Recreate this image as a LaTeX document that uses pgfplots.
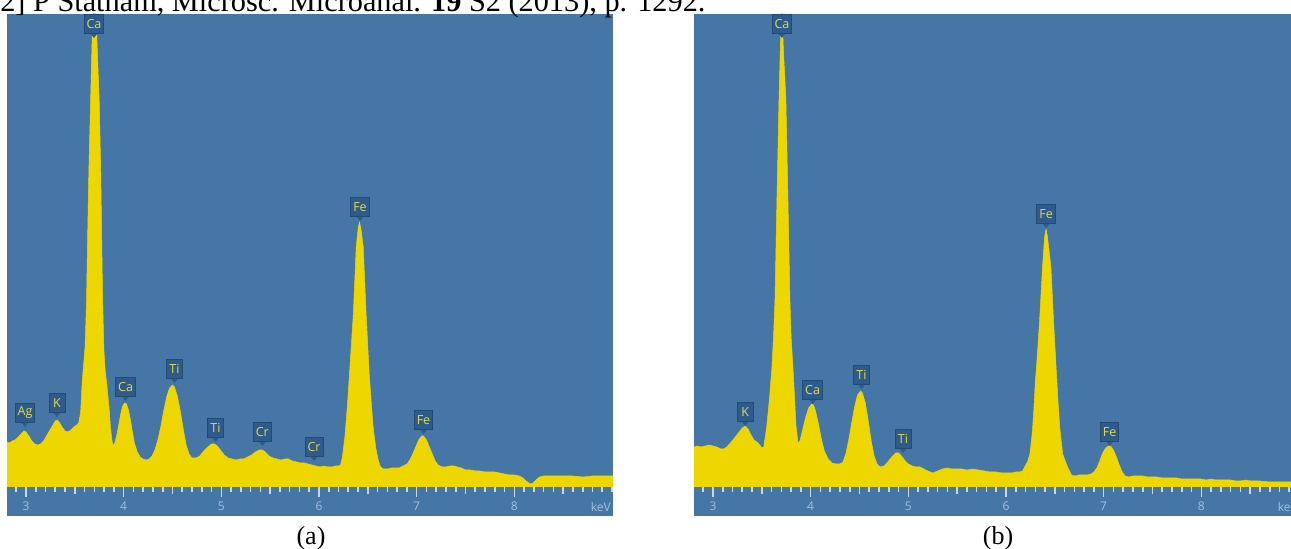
\documentclass[border=0pt]{standalone}
\usepackage{pgfplots}
\pgfplotsset{compat=1.18}
\usepackage{pgfplotstable}
\usepackage{fontspec}
\setmainfont{Liberation Serif}
\newfontfamily\sansf{Open Sans}
\definecolor{bgblue}{HTML}{4676A6}
\definecolor{ycol}{HTML}{EED600}
\definecolor{boxc}{HTML}{2E5B8B}
\definecolor{boxd}{HTML}{234B76}
\definecolor{lbltxt}{HTML}{E2DA45}
\definecolor{tickc}{HTML}{C6D8EC}
\definecolor{ticklc}{HTML}{A3C0DC}

\pgfplotstableread{
x y
2.806 45
2.83 44
2.86 46
2.89 47
2.92 50
2.95 53
2.98 56
3.00 55
3.03 51
3.06 46
3.09 43
3.12 42
3.15 43
3.18 46
3.21 51
3.24 56
3.27 61
3.30 66
3.32 67
3.34 65
3.37 60
3.40 56
3.43 55
3.46 57
3.49 60
3.52 62
3.54 64
3.56 75
3.575 104
3.59 122
3.605 140
3.62 185
3.632 254
3.645 320
3.662 387
3.679 454
3.69 480
3.70 490
3.71 480
3.724 454
3.75 387
3.765 320
3.775 254
3.785 187
3.798 137
3.81 118
3.826 104
3.84 90
3.853 77
3.865 60
3.88 47
3.89 42
3.91 44
3.93 52
3.95 62
3.97 73
3.99 81
4.01 84
4.03 83
4.05 77
4.07 67
4.09 55
4.11 44
4.14 35
4.17 30
4.20 28
4.23 27
4.26 28
4.29 31
4.32 37
4.35 47
4.38 60
4.41 76
4.44 90
4.47 99
4.50 102
4.52 100
4.55 91
4.58 76
4.61 58
4.64 42
4.67 33
4.70 29
4.74 29
4.78 31
4.82 36
4.86 40
4.90 43
4.93 43
4.96 41
4.99 37
5.03 32
5.07 29
5.11 28
5.15 27
5.19 28
5.23 28
5.27 30
5.31 32
5.35 35
5.39 37
5.42 37
5.45 35
5.49 31
5.53 29
5.57 28
5.61 27
5.65 28
5.69 28
5.73 26
5.77 25
5.81 24
5.85 24
5.89 23
5.93 22
5.97 21
6.01 20
6.05 21
6.09 20
6.13 20
6.17 21
6.20 21
6.221 22
6.24 30
6.265 50
6.29 80
6.31 110
6.33 140
6.352 174
6.381 240
6.40 258
6.414 265
6.43 258
6.453 240
6.482 174
6.50 140
6.515 112
6.535 85
6.552 62
6.58 40
6.606 27
6.63 20
6.66 18
6.70 18
6.74 19
6.78 19
6.82 19
6.86 21
6.90 23
6.93 27
6.96 33
6.99 40
7.02 47
7.05 51
7.07 51
7.10 47
7.13 40
7.16 33
7.19 26
7.22 22
7.26 20
7.30 20
7.34 21
7.38 21
7.42 20
7.46 19
7.50 17
7.55 17
7.60 16
7.65 16
7.70 15
7.75 15
7.80 15
7.85 14
7.90 13
7.95 12
8.00 12
8.05 11
8.09 9
8.12 6
8.15 4
8.17 3
8.19 4
8.22 7
8.26 10
8.30 11
8.40 11
8.50 11
8.60 11
8.70 10
8.80 11
8.90 11
9.01 11
}\specA

\pgfplotstableread{
x y
2.806 40
2.84 41
2.88 40
2.92 41
2.96 42
3.00 41
3.04 40
3.08 38
3.11 38
3.14 40
3.18 44
3.22 49
3.26 54
3.30 59
3.33 61
3.36 58
3.39 52
3.42 47
3.45 45
3.48 42
3.50 39
3.52 40
3.55 60
3.58 90
3.604 120
3.62 150
3.635 187
3.655 287
3.676 387
3.69 440
3.705 480
3.72 440
3.747 387
3.768 287
3.788 187
3.80 150
3.819 120
3.835 90
3.85 62
3.87 44
3.89 46
3.92 58
3.95 70
3.98 79
4.01 83
4.03 82
4.05 76
4.08 63
4.11 48
4.14 36
4.18 28
4.22 24
4.26 23
4.30 23
4.33 25
4.36 33
4.39 47
4.42 64
4.45 80
4.48 92
4.51 96
4.53 94
4.56 84
4.59 66
4.62 46
4.65 31
4.68 23
4.71 20
4.75 21
4.79 25
4.83 30
4.87 34
4.90 34
4.93 31
4.96 27
5.00 23
5.04 21
5.08 20
5.12 20
5.16 18
5.20 16
5.25 14
5.30 16
5.35 18
5.40 19
5.45 18
5.50 18
5.55 18
5.60 17
5.66 18
5.72 17
5.78 16
5.84 15
5.90 15
5.96 14
6.01 14
6.06 14
6.10 15
6.14 15
6.17 16
6.19 20
6.22 25
6.245 33
6.27 55
6.29 85
6.30 105
6.316 125
6.343 165
6.374 220
6.395 250
6.41 258
6.425 250
6.46 220
6.49 160
6.51 125
6.53 90
6.55 60
6.58 33
6.63 20
6.67 12
6.71 11
6.75 12
6.79 12
6.83 12
6.87 13
6.90 15
6.93 19
6.96 26
6.99 34
7.02 39
7.05 41
7.07 41
7.10 37
7.13 30
7.16 22
7.19 15
7.22 11
7.26 10
7.30 11
7.35 11
7.40 11
7.45 10
7.50 10
7.55 10
7.60 9
7.65 9
7.70 9
7.75 9
7.80 8
7.85 8
7.90 8
7.95 8
8.00 8
8.05 7
8.10 8
8.15 7
8.20 7
8.25 7
8.30 7
8.35 6
8.40 6
8.45 7
8.50 6
8.60 6
8.70 5
8.80 5
8.90 5
9.01 5
}\specB

\tikzset{lbl/.style={anchor=south, fill=boxc, draw=boxd, line width=0.8pt,
  text=lbltxt, font=\sansf\fontsize{12.5}{12.5}\selectfont,
  inner xsep=2.5pt, inner ysep=0pt, minimum height=19.5pt, minimum width=16pt}}
\newcommand{\lab}[3]{%
  \fill[boxc] (axis cs:#1,#2) -- ([xshift=-3.5pt,yshift=4.5pt]axis cs:#1,#2)
     -- ([xshift=3.5pt,yshift=4.5pt]axis cs:#1,#2) -- cycle;
  \node[lbl] at ([yshift=4pt]axis cs:#1,#2) {#3};}

\pgfplotsset{spec/.style={
  scale only axis, width=606pt, height=473pt,
  xmin=2.806, xmax=9.01, ymin=0, ymax=473,
  axis line style={draw=none},
  ytick=\empty,
  xtick={3,4,5,6,7,8},
  minor xtick={2.8,2.9,3.0,3.1,3.2,3.3,3.4,3.5,3.6,3.7,3.8,3.9,4.0,4.1,4.2,4.3,4.4,4.5,4.6,4.7,4.8,4.9,5.0,5.1,5.2,5.3,5.4,5.5,5.6,5.7,5.8,5.9,6.0,6.1,6.2,6.3,6.4,6.5,6.6,6.7,6.8,6.9,7.0,7.1,7.2,7.3,7.4,7.5,7.6,7.7,7.8,7.9,8.0,8.1,8.2,8.3,8.4,8.5,8.6,8.7,8.8,8.9,9.0},
  extra x ticks={3.5,4.5,5.5,6.5,7.5,8.5},
  extra x tick labels={},
  extra x tick style={major tick length=7pt},
  xtick pos=bottom,
  tick align=outside,
  major tick length=10pt, minor tick length=5pt,
  every tick/.style={tickc, line width=1.6pt},
  xticklabel style={text=ticklc, font=\sansf\fontsize{12}{12}\selectfont, yshift=-1pt},
  /pgf/number format/assume math mode=true,
}}

\begin{document}
\begin{tikzpicture}
% panel backgrounds incl. tick band
\fill[bgblue] (7pt,33pt) rectangle (613pt,535pt);
\fill[bgblue] (694pt,33pt) rectangle (1300pt,535pt);

\begin{axis}[spec, at={(7pt,62pt)}, anchor=south west]
\addplot[fill=ycol, draw=ycol, line width=0.5pt] table[x=x,y=y]{\specA} \closedcycle;
\lab{2.99}{60}{Ag}
\lab{3.317}{70}{K}
\lab{3.696}{449}{Ca}
\lab{4.02}{86}{Ca}
\lab{4.52}{104}{Ti}
\lab{4.94}{45}{Ti}
\lab{5.42}{41}{Cr}
\lab{5.95}{26}{Cr}
\lab{6.42}{266}{Fe}
\lab{7.07}{53}{Fe}
\end{axis}

\begin{axis}[spec, at={(694pt,62pt)}, anchor=south west]
\addplot[fill=ycol, draw=ycol, line width=0.5pt] table[x=x,y=y]{\specB} \closedcycle;
\lab{3.33}{61}{K}
\lab{3.706}{449}{Ca}
\lab{4.02}{83}{Ca}
\lab{4.52}{98}{Ti}
\lab{4.945}{34}{Ti}
\lab{6.41}{259}{Fe}
\lab{7.06}{41}{Fe}
\end{axis}

\node[anchor=base east, inner sep=0pt, text=ticklc, font=\sansf\fontsize{12}{12}\selectfont] at (611pt,37pt) {keV};
\node[anchor=base east, inner sep=0pt, text=ticklc, font=\sansf\fontsize{12}{12}\selectfont] at (1298pt,37pt) {keV};

\node[anchor=base, inner sep=0pt, font=\fontsize{26}{26}\selectfont] at (311pt,5pt) {(a)};
\node[anchor=base, inner sep=0pt, font=\fontsize{26}{26}\selectfont] at (998pt,5pt) {(b)};

\node[anchor=base west, inner sep=0pt, font=\fontsize{30.3}{30}\selectfont] at (-10pt,537pt)
  {[2] P Statham, Microsc. Microanal. \textbf{19} S2 (2013), p. 1292.};

\pgfresetboundingbox
\useasboundingbox (0pt,0pt) rectangle (1291pt,549pt);
\end{tikzpicture}
\end{document}
